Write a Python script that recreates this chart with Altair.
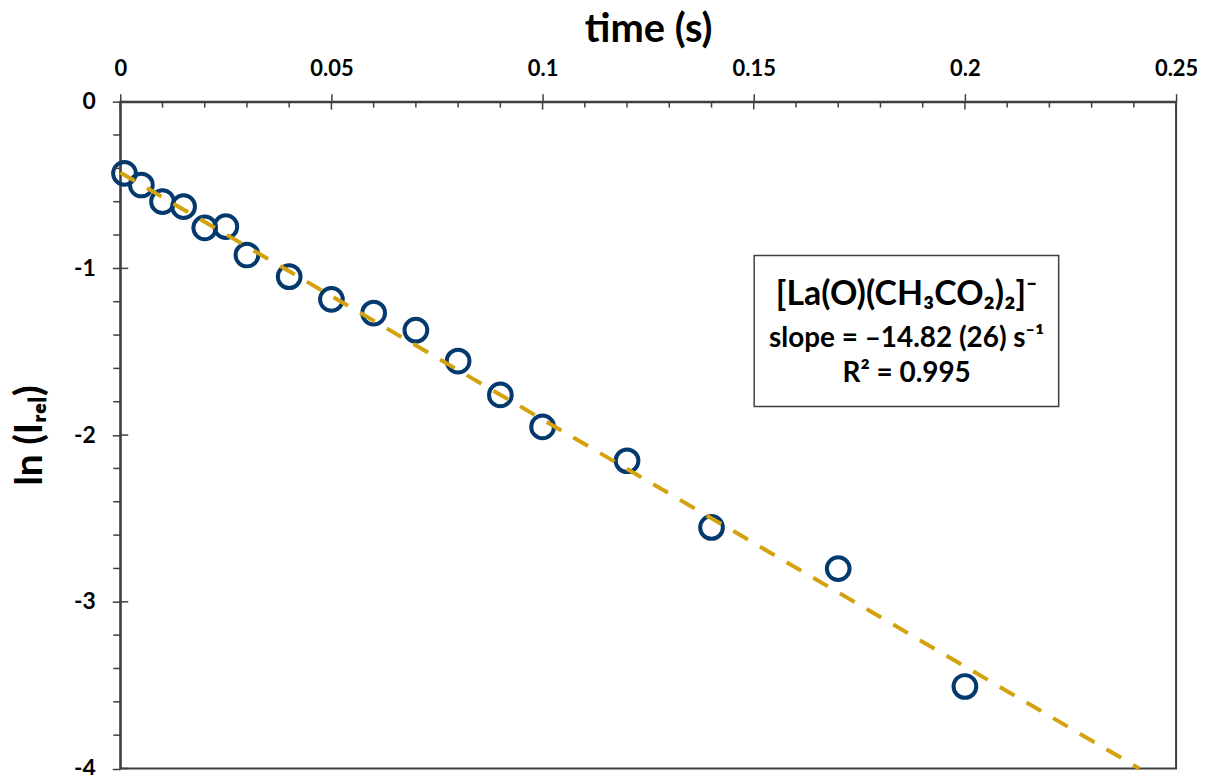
import altair as alt
import pandas as pd

# ---- data ----
time_s = [0.001, 0.005, 0.01, 0.015, 0.02, 0.025, 0.03, 0.04, 0.05, 0.06,
          0.07, 0.08, 0.09, 0.10, 0.12, 0.14, 0.17, 0.20]
ln_irel = [-0.43, -0.50, -0.60, -0.63, -0.757, -0.75, -0.92, -1.05, -1.186, -1.268,
           -1.371, -1.556, -1.759, -1.951, -2.154, -2.554, -2.801, -3.508]

fit_t = [0.0, 0.2413]
fit_ln = [-0.425, -4.0]

x_major = [0, 0.05, 0.1, 0.15, 0.2, 0.25]
x_minor = [0.01, 0.02, 0.03, 0.04, 0.06, 0.07, 0.08, 0.09, 0.11, 0.12, 0.13, 0.14,
           0.16, 0.17, 0.18, 0.19, 0.21, 0.22, 0.23, 0.24]
y_major = [0, -1, -2, -3, -4]
y_minor = [-0.2, -0.4, -0.6, -0.8, -1.2, -1.4, -1.6, -1.8, -2.2, -2.4,
           -2.6, -2.8, -3.2, -3.4, -3.6, -3.8]

note_lines = ["[La(O)(CH\u2083CO\u2082)\u2082]\u207B", "slope = \u201314.82 (26) s\u207B\u00B9", "R\u00B2 = 0.995"]

# annotation layout (data coordinates)
box_x, box_x2 = 0.1501, 0.2222
box_y, box_y2 = -0.923, -1.829
note_x = 0.1862
note_y = [-1.222, -1.473, -1.682]

FONT = "Lato"
INK = "#3F3F3F"
NAVY = "#03396C"
GOLD = "#D4A20C"

xs = alt.Scale(domain=[0, 0.25], nice=False, zero=False)
ys = alt.Scale(domain=[-4, 0], nice=False, zero=False)

pts = pd.DataFrame({"x": time_s, "y": ln_irel})
fit = pd.DataFrame({"x": fit_t, "y": fit_ln})

x_axis = alt.Axis(
    orient="top", values=x_major, labelExpr="'' + datum.value",
    title="time (s)", titleFontSize=40, titleFont=FONT, titleFontWeight="bold",
    titleColor="black", titleX=530, titleY=-60.5, titleBaseline="alphabetic",
    titleAlign="center", titleAnchor="middle",
    labelFont=FONT, labelFontSize=22, labelFontWeight="bold", labelColor="black",
    labelBaseline="alphabetic", labelPadding=18, labelFlush=False, labelOverlap=False,
    tickSize=8, tickWidth=1.5, tickColor=INK, domainColor=INK, domainWidth=2,
    grid=False,
)
y_axis = alt.Axis(
    orient="left", values=y_major, labelExpr="'' + datum.value",
    title="ln (I\u1D63\u2091\u2097)", titleFontSize=39, titleFont=FONT, titleFontWeight="bold",
    titleColor="black", titleAngle=270, titleX=-79, titleY=334.75,
    titleBaseline="alphabetic", titleAlign="center",
    labelFont=FONT, labelFontSize=23, labelFontWeight="bold", labelColor="black",
    labelBaseline="middle", labelPadding=17, labelFlush=False, labelOverlap=False,
    tickSize=8, tickWidth=1.5, tickColor=INK, domainColor=INK, domainWidth=2,
    grid=False,
)

X = alt.X("x:Q", scale=xs)
Y = alt.Y("y:Q", scale=ys)

points = alt.Chart(pts).mark_point(
    shape="circle", filled=False, size=520, strokeWidth=4, color=NAVY, opacity=1
).encode(
    x=alt.X("x:Q", scale=xs, axis=x_axis),
    y=alt.Y("y:Q", scale=ys, axis=y_axis),
)

line = alt.Chart(fit).mark_line(
    color=GOLD, strokeWidth=4, strokeDash=[17, 14]
).encode(x=X, y=Y)

xmaj_in = alt.Chart(pd.DataFrame({"x": x_major})).mark_rule(
    color=INK, strokeWidth=1.5
).encode(x=X, y=alt.value(0), y2=alt.value(8))

xmin_in = alt.Chart(pd.DataFrame({"x": x_minor})).mark_rule(
    color=INK, strokeWidth=1.5
).encode(x=X, y=alt.value(0), y2=alt.value(6))

ymaj_in = alt.Chart(pd.DataFrame({"y": y_major})).mark_rule(
    color=INK, strokeWidth=1.5
).encode(y=Y, x=alt.value(0), x2=alt.value(8))

ymin_out = alt.Chart(pd.DataFrame({"y": y_minor})).mark_rule(
    color=INK, strokeWidth=1.5
).encode(y=Y, x=alt.value(0), x2=alt.value(-7))

box = alt.Chart(pd.DataFrame({"x": [box_x], "x2": [box_x2], "y": [box_y], "y2": [box_y2]})).mark_rect(
    fill="white", stroke=INK, strokeWidth=1.5
).encode(x=X, x2="x2:Q", y=Y, y2="y2:Q")

note_df = pd.DataFrame({"x": [note_x] * 3, "y": note_y, "t": note_lines})
note1 = alt.Chart(note_df.iloc[[0]]).mark_text(
    font=FONT, fontSize=34, fontWeight="bold", color="black", align="center", baseline="alphabetic"
).encode(x=X, y=Y, text="t:N")
note2 = alt.Chart(note_df.iloc[[1, 2]]).mark_text(
    font=FONT, fontSize=28, fontWeight="bold", color="black", align="center", baseline="alphabetic"
).encode(x=X, y=Y, text="t:N")

chart = alt.layer(
    points, line, xmaj_in, xmin_in, ymaj_in, ymin_out, box, note1, note2
).properties(
    width=1060, height=669.5, autosize="none",
    padding={"left": 112.7, "top": 92.5, "right": 21, "bottom": 5},
    background="white",
).configure_view(stroke=INK, strokeWidth=2)

chart.save("out.html", embed_options={"renderer": "svg", "actions": False})
